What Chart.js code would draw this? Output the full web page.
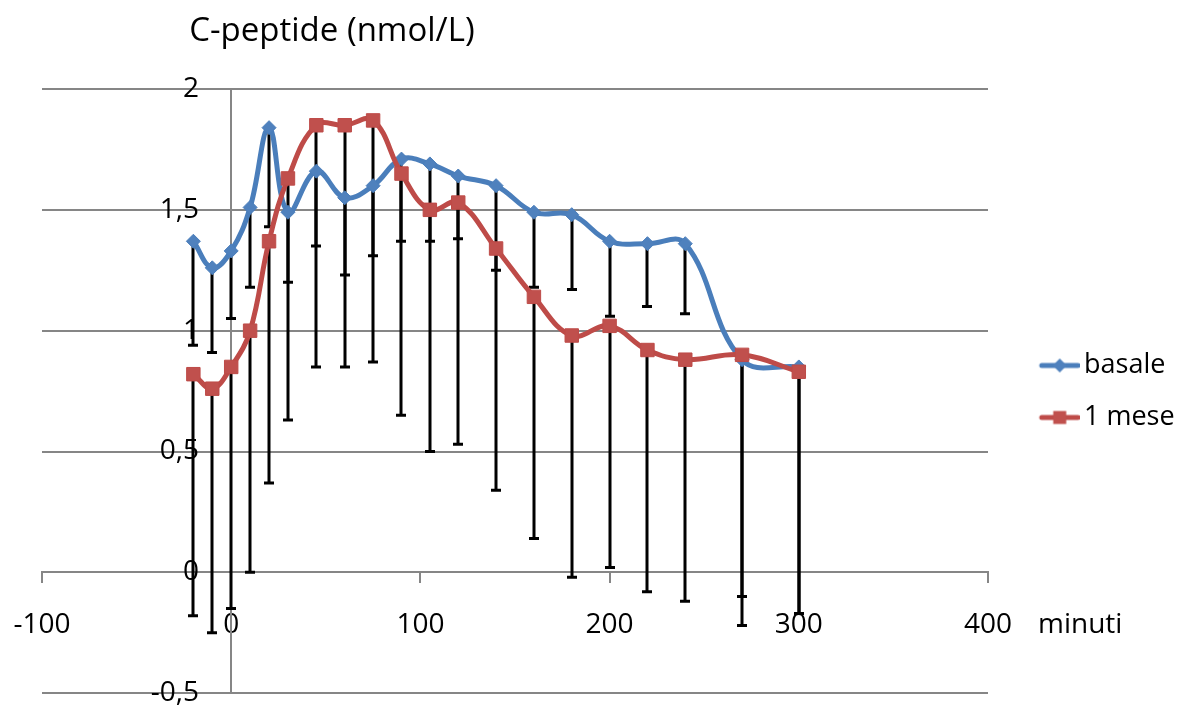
<!DOCTYPE html>
<html>
<head>
<meta charset="utf-8">
<title>C-peptide</title>
<script src="https://cdn.jsdelivr.net/npm/chart.js@4.4.1/dist/chart.umd.min.js"></script>
<style>
  html, body { margin: 0; padding: 0; background: #fff; }
  #wrap { width: 1191px; height: 710px; }
</style>
</head>
<body>
<div id="wrap"><canvas id="chart" width="1191" height="710"></canvas></div>
<script>
// minutes of sampling
const minutes = [-20, -10, 0, 10, 20, 30, 45, 60, 75, 90, 105, 120, 140, 160, 180, 200, 220, 240, 270, 300];

// C-peptide, nmol/L
const basale = [1.37, 1.26, 1.33, 1.51, 1.84, 1.49, 1.66, 1.55, 1.60, 1.71, 1.69, 1.64, 1.60, 1.49, 1.48, 1.37, 1.36, 1.36, 0.88, 0.85];
const mese = [0.82, 0.76, 0.85, 1.00, 1.37, 1.63, 1.85, 1.85, 1.87, 1.65, 1.50, 1.53, 1.34, 1.14, 0.98, 1.02, 0.92, 0.88, 0.90, 0.83];

// lower end of the (minus only) error bars
const basaleLow = [0.94, 0.91, 1.05, 1.18, 1.43, 1.20, 1.35, 1.23, 1.31, 1.37, 1.37, 1.38, 1.25, 1.18, 1.17, 1.06, 1.10, 1.07, -0.10, -0.17];
const meseLow = [-0.18, -0.25, -0.15, 0.00, 0.37, 0.63, 0.85, 0.85, 0.87, 0.65, 0.50, 0.53, 0.34, 0.14, -0.02, 0.02, -0.08, -0.12, -0.22, -0.17];

const xTicks = [-100, 0, 100, 200, 300, 400];
const yTicks = [-0.5, 0, 0.5, 1, 1.5, 2];

const FONT = "'Open Sans', sans-serif";
const GRID = "#868686";
const BLUE_LINE = "#4A7EBB";
const BLUE_FILL = "#4F81BD";
const RED_LINE = "#BE4B48";
const RED_FILL = "#C0504D";
const LEGEND_WIDTH = 203;
// the y labels hang off a second axis placed a little left of x = 0
const Y_LABEL_AT = -17;

function toPoints(values) {
  return minutes.map((m, i) => ({ x: m, y: values[i] }));
}

function yLabel(value) {
  return String(value).replace(".", ",");
}

function makeLegendIcon(lineColor, fillColor, shape) {
  const c = document.createElement("canvas");
  c.width = 76;
  c.height = 18;
  const g = c.getContext("2d");
  g.strokeStyle = lineColor;
  g.lineWidth = 5;
  g.lineCap = "round";
  g.beginPath();
  g.moveTo(38, 9);
  g.lineTo(74, 9);
  g.stroke();
  g.fillStyle = fillColor;
  g.beginPath();
  if (shape === "rectRot") {
    g.moveTo(56, 2);
    g.lineTo(63, 9);
    g.lineTo(56, 16);
    g.lineTo(49, 9);
    g.closePath();
  } else {
    g.rect(49.5, 2.5, 13, 13);
  }
  g.fill();
  return c;
}

const legendIcons = [
  makeLegendIcon(BLUE_LINE, BLUE_FILL, "rectRot"),
  makeLegendIcon(RED_LINE, RED_FILL, "rect"),
];

const errorBars = {
  id: "errorBars",
  beforeDatasetsDraw(chart) {
    const { ctx, scales } = chart;
    const xs = scales.x;
    const ys = scales.y;
    ctx.save();
    ctx.strokeStyle = "#000";
    ctx.lineWidth = 3;
    [[basale, basaleLow], [mese, meseLow]].forEach(([vals, lows]) => {
      minutes.forEach((m, i) => {
        const px = Math.round(xs.getPixelForValue(m));
        const top = ys.getPixelForValue(vals[i]);
        const bot = ys.getPixelForValue(lows[i]);
        ctx.beginPath();
        ctx.moveTo(px, top);
        ctx.lineTo(px, bot);
        ctx.moveTo(px - 5, bot);
        ctx.lineTo(px + 5, bot);
        ctx.stroke();
      });
    });
    ctx.restore();
  },
};

const axisTitles = {
  id: "axisTitles",
  afterDraw(chart) {
    const { ctx, scales } = chart;
    ctx.save();
    ctx.fillStyle = "#000";
    ctx.textBaseline = "middle";
    ctx.textAlign = "left";
    ctx.font = `33px ${FONT}`;
    ctx.fillText("C-peptide (nmol/L)", scales.x.getPixelForValue(0) - 42, 32);
    ctx.font = `28px ${FONT}`;
    ctx.fillText("minuti", scales.x.right + 50, scales.y.getPixelForValue(0) + 53);
    ctx.restore();
  },
};

const legendWidthFix = {
  id: "legendWidthFix",
  afterInit(chart) {
    const legend = chart.legend;
    if (!legend) return;
    const fit = legend.fit;
    legend.fit = function () {
      fit.call(this);
      this.width = LEGEND_WIDTH;
    };
  },
};

new Chart(document.getElementById("chart"), {
  type: "scatter",
  data: {
    datasets: [
      {
        label: "basale",
        data: toPoints(basale),
        showLine: true,
        tension: 0.4,
        borderColor: BLUE_LINE,
        borderWidth: 5,
        backgroundColor: BLUE_FILL,
        pointStyle: "rectRot",
        pointRadius: 7,
        pointBorderWidth: 1,
        pointBorderColor: BLUE_LINE,
        pointBackgroundColor: BLUE_FILL,
        order: 2,
      },
      {
        label: "1 mese",
        data: toPoints(mese),
        showLine: true,
        tension: 0.4,
        borderColor: RED_LINE,
        borderWidth: 5,
        backgroundColor: RED_FILL,
        pointStyle: "rect",
        pointRadius: 9.5,
        pointBorderWidth: 1,
        pointBorderColor: RED_LINE,
        pointBackgroundColor: RED_FILL,
        order: 1,
      },
    ],
  },
  options: {
    responsive: false,
    animation: false,
    layout: {
      padding: { top: 89, left: 42, bottom: 16, right: 0 },
    },
    scales: {
      x: {
        type: "linear",
        position: { y: 0 },
        min: xTicks[0],
        max: xTicks[xTicks.length - 1],
        afterBuildTicks: (scale) => {
          scale.ticks = xTicks.map((v) => ({ value: v }));
        },
        grid: {
          drawOnChartArea: false,
          drawTicks: true,
          tickLength: 10,
          color: GRID,
          lineWidth: 2,
        },
        border: { display: true, color: GRID, width: 2 },
        ticks: {
          color: "#000",
          padding: 0,
          maxRotation: 0,
          font: { family: FONT, size: 28, lineHeight: "86px" },
        },
      },
      y: {
        type: "linear",
        position: { x: 0 },
        min: yTicks[0],
        max: yTicks[yTicks.length - 1],
        afterBuildTicks: (scale) => {
          scale.ticks = yTicks.map((v) => ({ value: v }));
        },
        grid: {
          drawTicks: false,
          color: GRID,
          lineWidth: 2,
        },
        border: { display: true, color: GRID, width: 2 },
        ticks: { display: false },
      },
      yLabels: {
        axis: "y",
        type: "linear",
        position: { x: Y_LABEL_AT },
        min: yTicks[0],
        max: yTicks[yTicks.length - 1],
        afterBuildTicks: (scale) => {
          scale.ticks = yTicks.map((v) => ({ value: v }));
        },
        grid: { display: false, drawTicks: false },
        border: { display: false },
        ticks: {
          color: "#000",
          padding: 0,
          font: { family: FONT, size: 28 },
          callback: yLabel,
        },
      },
    },
    plugins: {
      tooltip: { enabled: false },
      legend: {
        position: "right",
        align: "center",
        labels: {
          color: "#000",
          font: { family: FONT, size: 27 },
          usePointStyle: true,
          pointStyleWidth: 57.5,
          padding: 25,
          generateLabels(chart) {
            const items = Chart.defaults.plugins.legend.labels.generateLabels(chart);
            items.forEach((item) => {
              item.pointStyle = legendIcons[item.datasetIndex];
            });
            return items;
          },
          sort: (a, b) => a.datasetIndex - b.datasetIndex,
        },
      },
    },
  },
  plugins: [errorBars, axisTitles, legendWidthFix],
});
</script>
</body>
</html>
